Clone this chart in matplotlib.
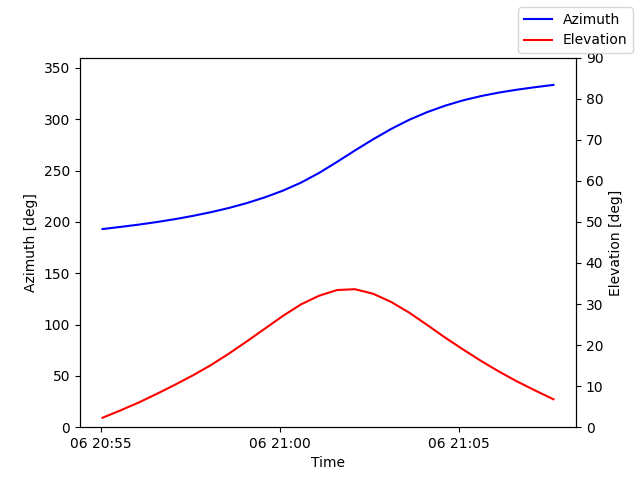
import matplotlib
matplotlib.use("Agg")
import matplotlib.pyplot as plt
import matplotlib.dates as mdates
import pandas as pd

start_time = "2024-01-06 20:55:03"
end_time = "2024-01-06 21:07:39"
n_points = 26

azimuth = [193.0, 195.1, 197.3, 199.8, 202.6, 205.8, 209.4, 213.5, 218.3, 223.9,
           230.4, 238.2, 247.6, 258.4, 269.6, 280.4, 290.5, 299.4, 306.9, 313.2,
           318.4, 322.6, 326.0, 328.8, 331.2, 333.4]
elevation = [2.3, 4.1, 6.0, 8.1, 10.3, 12.6, 15.1, 17.9, 20.9, 24.0,
             27.1, 29.9, 32.0, 33.4, 33.6, 32.5, 30.5, 27.9, 24.9, 21.8,
             18.9, 16.1, 13.5, 11.1, 8.9, 6.8]

times = pd.date_range(start_time, end_time, periods=n_points)

fig, ax1 = plt.subplots(figsize=(6.4, 4.8), dpi=100)
l1, = ax1.plot(times, azimuth, color="blue", label="Azimuth")
ax1.set_ylim(0, 360)
ax1.set_xlabel("Time")
ax1.set_ylabel("Azimuth [deg]")

ax2 = ax1.twinx()
l2, = ax2.plot(times, elevation, color="red", label="Elevation")
ax2.set_ylim(0, 90)
ax2.set_ylabel("Elevation [deg]")

ax1.xaxis.set_major_locator(mdates.MinuteLocator(interval=5))
ax1.xaxis.set_major_formatter(mdates.DateFormatter("%d %H:%M"))

fig.legend(handles=[l1, l2], loc="upper right")
fig.savefig("out.png")
